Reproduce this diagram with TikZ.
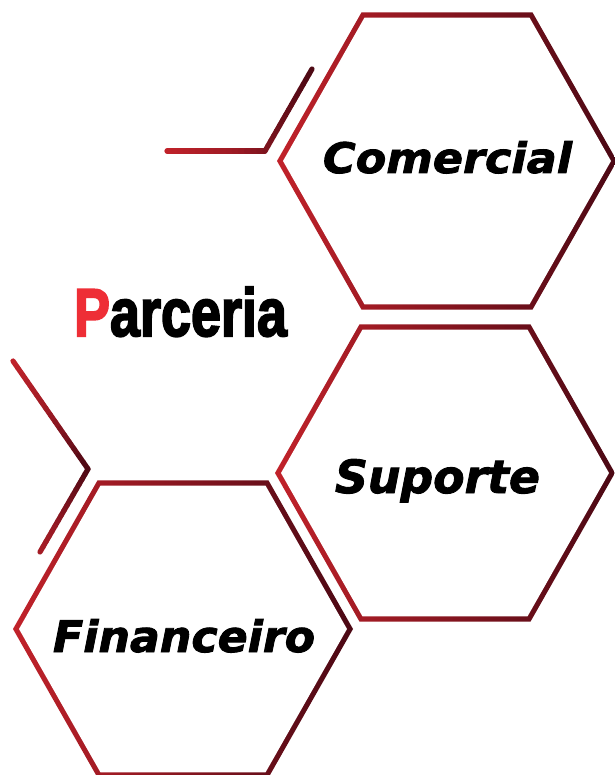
\documentclass[tikz,border=0pt]{standalone}
\usepackage{fontspec}
\usepackage{graphicx}
\usetikzlibrary{calc}
\newfontfamily\titlefont{Liberation Sans}[BoldFeatures={FakeBold=3}]
\newfontfamily\labelfont{DejaVu Sans}[BoldItalicFeatures={FakeBold=2}]
\definecolor{hexred}{RGB}{193,34,42}
\definecolor{hexmid}{RGB}{155,26,36}
\definecolor{hexdark}{RGB}{75,8,20}
\definecolor{pred}{RGB}{238,46,54}
\tikzset{
  hexshade/.style={left color=hexred, middle color=hexmid, right color=hexdark},
  lbl/.style={anchor=base west, inner sep=0pt, outer sep=0pt, text=black},
}
% hexagon ring: name, cx, cy
\newcommand\hexring[3]{%
  \coordinate (#1) at (#2,#3);
  \begin{scope}[shift={(#2,#3)}]
    \shade[hexshade] (-170,0) -- (-85.5,-148.6) -- (85.5,-148.6) -- (170,0)
      -- (85.5,148.6) -- (-85.5,148.6) -- cycle;
    \fill[white] (-164,0) -- (-82.5,-143.4) -- (82.5,-143.4) -- (164,0)
      -- (82.5,143.4) -- (-82.5,143.4) -- cycle;
  \end{scope}}
% gradient line from coord #1 (x=#3) to coord #2 (x=#4); gradient over x in [#5,#6]
\newcommand\gradline[6]{%
  \foreach \i in {0,...,15}{%
    \pgfmathsetmacro\ta{\i/16}%
    \pgfmathsetmacro\tb{(\i+1)/16}%
    \pgfmathsetmacro\tt{((#3+(#4-#3)*(\i+0.5)/16)-#5)/(#6-#5)}%
    \ifdim\tt pt<0.5pt
      \pgfmathtruncatemacro\pc{\tt*200}%
      \colorlet{segc}{hexmid!\pc!hexred}%
    \else
      \pgfmathtruncatemacro\pc{(\tt-0.5)*200}%
      \colorlet{segc}{hexdark!\pc!hexmid}%
    \fi
    \draw[segc, line width=5.2pt, line cap=round]
      ($(#1)!\ta!(#2)$) -- ($(#1)!\tb!(#2)$);
  }}
\begin{document}
\begin{tikzpicture}[x=1pt,y=-1pt]
\useasboundingbox (0,0) rectangle (614,775);
\fill[white] (0,0) rectangle (614,775);

\hexring{h1}{447}{161}
\hexring{h2}{445}{473}
\hexring{h3}{183}{629}

% decorative lines
\coordinate (la) at (167,151);
\coordinate (lb) at (265,151);
\coordinate (lc) at (312,69);
\gradline{la}{lb}{167}{265}{167}{312}
\gradline{lb}{lc}{265}{312}{167}{312}

\coordinate (ld) at (13,361);
\coordinate (le) at (88,469);
\coordinate (lf) at (40,552);
\gradline{ld}{le}{13}{88}{13}{88}
\gradline{le}{lf}{88}{40}{13}{88}

% texts
\node[lbl] (title) at (74,336) {\resizebox{213pt}{49pt}{\titlefont\bfseries\textcolor{pred}{P}arceria}};
\node[lbl] (com) at (323,173) {\resizebox{249pt}{32pt}{\labelfont\bfseries\itshape Comercial}};
\node[lbl] (sup) at (335,493) {\resizebox{205pt}{34pt}{\labelfont\bfseries\itshape Suporte}};
\node[lbl] (fin) at (53,652) {\resizebox{262pt}{33pt}{\labelfont\bfseries\itshape Financeiro}};
\end{tikzpicture}
\end{document}
